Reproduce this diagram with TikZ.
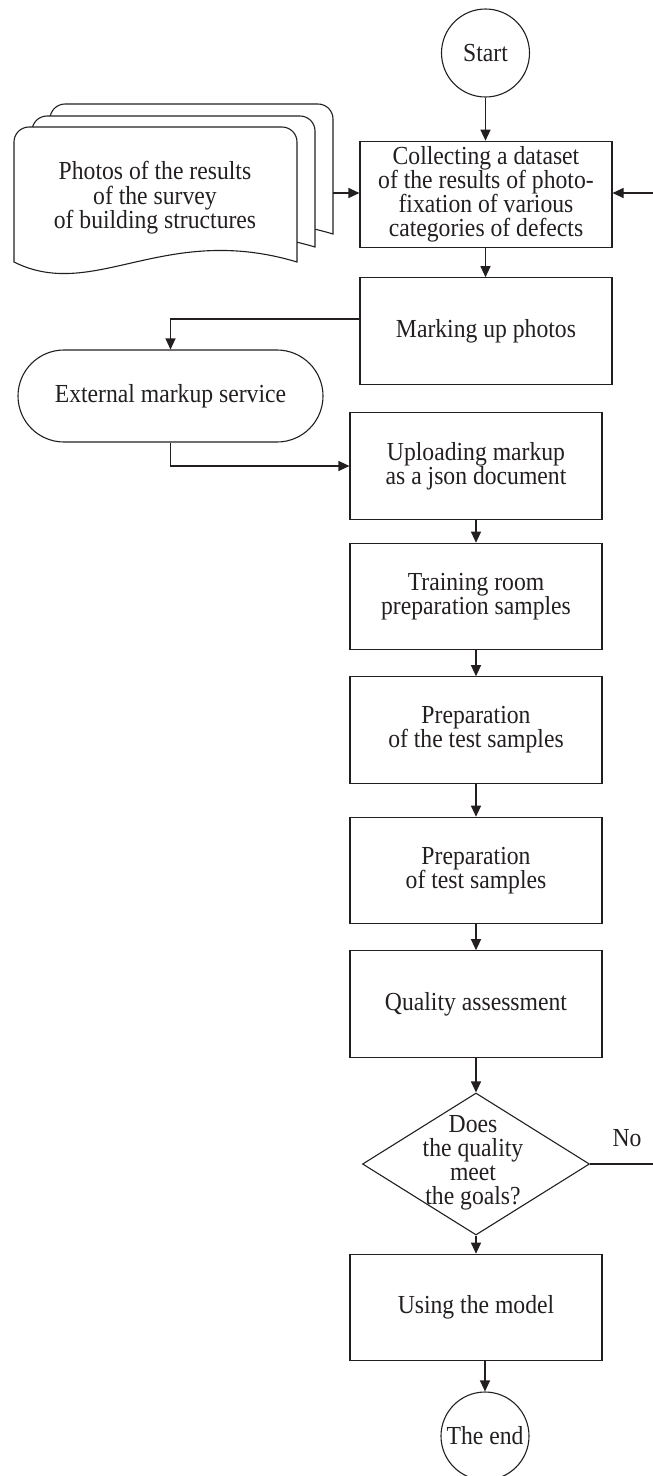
\documentclass[tikz,border=0pt]{standalone}
\usepackage{fontspec}
\setmainfont{Liberation Serif}[FakeStretch=0.91]
\usetikzlibrary{shapes.geometric,arrows.meta,calc}
\definecolor{ink}{RGB}{35,31,32}
% #1 left x, #2 top y, #3 y of the bottom ends
\newcommand\docsheet[3]{%
  \draw[line,fill=white] (#1,#3) -- (#1,#2+15) arc(180:270:15) -- (#1+268,#2) arc(270:360:15)
    -- (#1+283,#3) .. controls (#1+150,#3-40) and (#1+80,#3+40) .. (#1,#3) -- cycle;}
\begin{document}
\begin{tikzpicture}[x=1pt,y=-1pt,
  line/.style={draw=ink,line width=1.1pt},
  arr/.style={line,-{Triangle[length=11pt,width=10pt]}},
  txt/.style={font=\fontsize{26}{24}\selectfont,text=ink,align=center},
  box/.style={txt,line,rectangle,minimum width=252pt,minimum height=106.5pt,inner sep=0pt},
  term/.style={txt,line,circle,minimum size=88pt,inner sep=0pt}]
\useasboundingbox (0,0) rectangle (653,1476);

% document stack
\docsheet{50}{104}{234}
\docsheet{32}{116}{247}
\docsheet{14}{127}{262}
\node[txt,font=\fontsize{26}{24.5}\selectfont] (doct) at (155,198) {Photos of the results\\of the survey\\of building structures};
\coordinate (docR) at (333,193);

\node[term] (start) at (485.5,53) {Start};
\node[box] (coll) at (486,194.5) {Collecting a dataset\\of the results of photo-\\fixation of various\\categories of defects};
\node[box] (mark) at (486,331) {Marking up photos};
\node[txt,line,rectangle,rounded corners=46pt,minimum width=305pt,minimum height=92pt,inner sep=0pt] (ext) at (170.5,396) {External markup service};
\node[box] (up) at (476,466) {Uploading markup\\as a json document};
\node[box] (train) at (476,596.5) {Training room\\preparation samples};
\node[box] (prep1) at (476,730) {Preparation\\of the test samples};
\node[box] (prep2) at (476,870.5) {Preparation\\of test samples};
\node[box] (qual) at (476,1004) {Quality assessment};
\node[line,diamond,minimum width=227pt,minimum height=142pt,inner sep=0pt] (dec) at (476,1164) {};
\node[txt,font=\fontsize{26}{24}\selectfont] (dect) at (473,1163) {Does\\the quality\\meet\\the goals?};
\node[box] (use) at (476,1307.5) {Using the model};
\node[term] (fin) at (485,1436) {The end};
\node[txt] (no) at (627,1138) {No};

\coordinate (rin) at (653,193);
\coordinate (rout) at (653,1164);

% connectors
\draw[arr] (start) -- (start |- coll.north);
\draw[arr] (coll.south -| start) -- (mark.north -| start);
\draw[arr] (docR) -- (docR -| coll.west);
\draw[arr] (rin) -- (rin -| coll.east);
\draw[arr] ($(mark.west)+(0,-12)$) -| (ext.north);
\draw[arr] (ext.south) |- (up.west);
\draw[arr] (up.south) -- (train.north);
\draw[arr] (train.south) -- (prep1.north);
\draw[arr] (prep1.south) -- (prep2.north);
\draw[arr] (prep2.south) -- (qual.north);
\draw[arr] (qual.south) -- (dec.north);
\draw[line] (dec.east) -- (rout);
\draw[arr] (dec.south) -- (use.north);
\draw[arr] (use.south -| fin) -- (fin.north);
\end{tikzpicture}
\end{document}
